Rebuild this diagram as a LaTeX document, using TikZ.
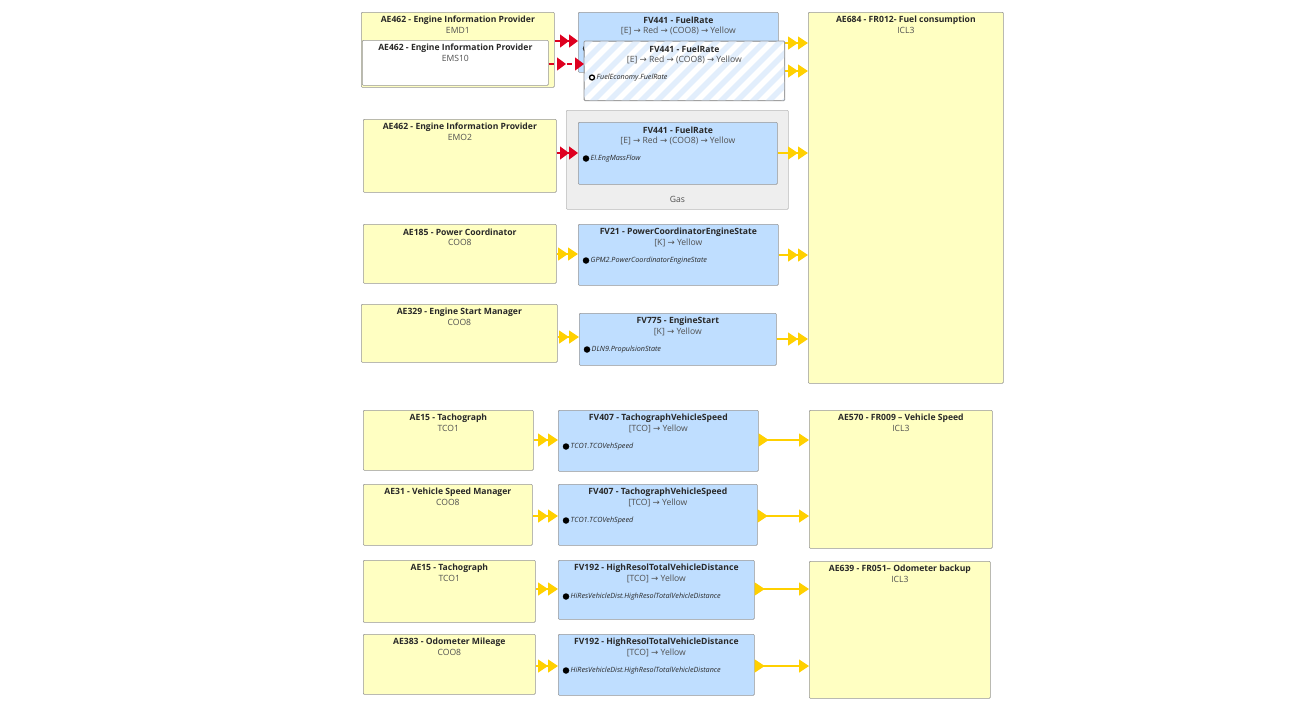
\documentclass[tikz,border=0pt]{standalone}
\usepackage{fontspec}
\setmainfont{Open Sans}
\newfontfamily\symfont{DejaVu Sans}
\usetikzlibrary{arrows.meta}
\definecolor{yfill}{RGB}{255,255,194}
\definecolor{bfill}{RGB}{191,222,255}
\definecolor{bord}{RGB}{150,150,150}
\definecolor{gasfill}{RGB}{238,238,238}
\definecolor{gasbord}{RGB}{185,185,185}
\definecolor{ylw}{RGB}{255,208,0}
\definecolor{redc}{RGB}{222,0,32}
\definecolor{tcol}{RGB}{40,40,40}
\definecolor{scol}{RGB}{80,80,80}
\definecolor{stripe}{RGB}{226,238,252}
\newcommand\RA{{\symfont →}}
\tikzset{
  boxbase/.style={draw=bord, line width=0.7pt, rounded corners=1pt, anchor=north west, inner sep=0pt},
  ybox/.style={boxbase, fill=yfill},
  wbox/.style={boxbase, fill=white},
  bbox/.style={boxbase, fill=bfill},
  hbox/.style={boxbase},
  ttl/.style={font=\fontsize{8.6}{10}\selectfont\bfseries, text=tcol, inner sep=0pt},
  subt/.style={font=\fontsize{8.6}{10}\selectfont, text=scol, inner sep=0pt},
  sig/.style={font=\fontsize{7.2}{8}\selectfont\itshape, text=tcol, anchor=west, inner sep=0pt},
  dotc/.style={circle, fill=black, inner sep=0pt, minimum size=6.5pt},
  ringc/.style={circle, draw=black, line width=1.3pt, fill=white, inner sep=0pt, minimum size=5pt},
  ya/.style={draw=ylw, line width=1.3pt, -{Triangle[length=10pt,width=13pt]Triangle[length=10pt,width=13pt]}},
  ys/.style={draw=ylw, line width=1.3pt, {Triangle[reversed,length=10pt,width=13pt]}-{Triangle[length=10pt,width=13pt]}},
  rd/.style={draw=redc, line width=1.3pt, -{Triangle[length=9pt,width=13pt]Triangle[length=9pt,width=13pt]}},
  rdd/.style={draw=redc, line width=1.3pt, dash pattern=on 5pt off 4pt, -{Triangle[length=9pt,width=13pt,sep=9pt]Triangle[length=9pt,width=13pt]}},
}
% #1 style, #2 name, #3 x, #4 y, #5 w, #6 h, #7 title, #8 sub
\newcommand\ybx[8][ybox]{%
  \node[#1, minimum width=#5pt, minimum height=#6pt] (#2) at (#3,#4) {};
  \node[ttl] (#2-t) at ([yshift=-8pt]#2.north) {#7};
  \node[subt] (#2-s) at ([yshift=-18.5pt]#2.north) {#8};
}
% #1 name, #2 x, #3 y, #4 w, #5 h, #6 title, #7 sub, #8 signal
\newcommand\fvbx[8]{%
  \node[bbox, minimum width=#4pt, minimum height=#5pt] (#1) at (#2,#3) {};
  \node[ttl] (#1-t) at ([yshift=-8pt]#1.north) {#6};
  \node[subt] (#1-s) at ([yshift=-19pt]#1.north) {#7};
  \node[dotc] (#1-d) at ([xshift=8pt,yshift=-36.5pt]#1.north west) {};
  \node[sig] (#1-g) at ([xshift=12.5pt,yshift=-36.5pt]#1.north west) {#8};
}
\begin{document}
\begin{tikzpicture}[x=1pt,y=-1pt]
\useasboundingbox[fill=white] (0,0) rectangle (1291,710);

% ---------- top group ----------
\node[ybox, minimum width=195pt, minimum height=371pt] (ae684) at (808,12) {};
\node[ttl] (ae684-t) at ([yshift=-8pt]ae684.north) {AE684 - FR012- Fuel consumption};
\node[subt] (ae684-s) at ([yshift=-18.5pt]ae684.north) {ICL3};

\ybx{emd1}{361}{12}{193}{75}{AE462 - Engine Information Provider}{EMD1}
\node[bbox, minimum width=200pt, minimum height=60pt] (fvb) at (578,12) {};
\node[ttl] (fvb-t) at ([yshift=-8pt]fvb.north) {FV441 - FuelRate};
\node[subt] (fvb-s) at ([yshift=-19pt]fvb.north) {[E] \RA{} Red \RA{} (COO8) \RA{} Yellow};
\node[ringc] (fvb-d) at ([xshift=8pt,yshift=-36.5pt]fvb.north west) {};
\draw[rd] (emd1.east |- 0,41) -- (fvb.west |- 0,41);
\draw[ya] (fvb.east |- 0,43) -- (ae684.west |- 0,43);

\node[wbox, minimum width=186pt, minimum height=45pt] (ems10) at (362,40) {};
\node[ttl] (ems10-t) at ([yshift=-8pt]ems10.north) {AE462 - Engine Information Provider};
\node[subt] (ems10-s) at ([yshift=-18.5pt]ems10.north) {EMS10};

\node[hbox, fill=white, minimum width=200pt, minimum height=59pt] (fvf) at (584,41) {};
\begin{scope}
  \clip (fvf.south west) rectangle (fvf.north east);
  \foreach \i in {0,16,...,272} {
    \draw[stripe, line width=5.5pt] (520+\i,110) -- ++(80,-80);
  }
\end{scope}
\draw[bord, line width=0.7pt, rounded corners=1pt] (fvf.south west) rectangle (fvf.north east);
\node[ttl] (fvf-t) at ([yshift=-8pt]fvf.north) {FV441 - FuelRate};
\node[subt] (fvf-s) at ([yshift=-19pt]fvf.north) {[E] \RA{} Red \RA{} (COO8) \RA{} Yellow};
\node[ringc] (fvf-d) at ([xshift=8pt,yshift=-36.5pt]fvf.north west) {};
\node[sig] (fvf-g) at ([xshift=12.5pt,yshift=-36.5pt]fvf.north west) {FuelEconomy.FuelRate};
\draw[rdd] (ems10.east |- 0,64) -- (fvf.west |- 0,64);
\draw[ya] (fvf.east |- 0,71) -- (ae684.west |- 0,71);

% gas group
\node[boxbase, fill=gasfill, draw=gasbord, minimum width=222pt, minimum height=99pt] (gas) at (566,110) {};
\node[subt] (gas-l) at ([yshift=10pt]gas.south) {Gas};
\fvbx{fvg}{578}{122}{199}{62}{FV441 - FuelRate}{[E] \RA{} Red \RA{} (COO8) \RA{} Yellow}{EI.EngMassFlow}
\ybx{emo2}{363}{119}{193}{73}{AE462 - Engine Information Provider}{EMO2}
\draw[rd] (emo2.east |- 0,153) -- (fvg.west |- 0,153);
\draw[ya] (fvg.east |- 0,153) -- (ae684.west |- 0,153);

% power coordinator
\ybx{ae185}{363}{224}{193}{59}{AE185 - Power Coordinator}{COO8}
\fvbx{fv21}{578}{224}{200}{61}{FV21 - PowerCoordinatorEngineState}{[K] \RA{} Yellow}{GPM2.PowerCoordinatorEngineState}
\draw[ya] (ae185.east |- 0,254) -- (fv21.west |- 0,254);
\draw[ya] (fv21.east |- 0,255) -- (ae684.west |- 0,255);

% engine start
\ybx{ae329}{361}{304}{196}{58}{AE329 - Engine Start Manager}{COO8}
\fvbx{fv775}{579}{313}{197}{52}{FV775 - EngineStart}{[K] \RA{} Yellow}{DLN9.PropulsionState}
\draw[ya] (ae329.east |- 0,337) -- (fv775.west |- 0,337);
\draw[ya] (fv775.east |- 0,339) -- (ae684.west |- 0,339);

% ---------- vehicle speed ----------
\ybx{ae570}{809}{410}{183}{138}{AE570 - FR009 – Vehicle Speed}{ICL3}
\ybx{ae15a}{363}{410}{170}{60}{AE15 - Tachograph}{TCO1}
\fvbx{fv407a}{558}{410}{200}{61}{FV407 - TachographVehicleSpeed}{[TCO] \RA{} Yellow}{TCO1.TCOVehSpeed}
\draw[ya] (ae15a.east |- 0,440) -- (fv407a.west |- 0,440);
\draw[ys] (fv407a.east |- 0,440) -- (ae570.west |- 0,440);

\ybx{ae31}{363}{484}{169}{61}{AE31 - Vehicle Speed Manager}{COO8}
\fvbx{fv407b}{558}{484}{199}{61}{FV407 - TachographVehicleSpeed}{[TCO] \RA{} Yellow}{TCO1.TCOVehSpeed}
\draw[ya] (ae31.east |- 0,516) -- (fv407b.west |- 0,516);
\draw[ys] (fv407b.east |- 0,516) -- (ae570.west |- 0,516);

% ---------- odometer ----------
\ybx{ae639}{809}{561}{181}{137}{AE639 - FR051– Odometer backup}{ICL3}
\ybx{ae15b}{363}{560}{172}{62}{AE15 - Tachograph}{TCO1}
\fvbx{fv192a}{558}{560}{196}{59}{FV192 - HighResolTotalVehicleDistance}{[TCO] \RA{} Yellow}{HiResVehicleDist.HighResolTotalVehicleDistance}
\draw[ya] (ae15b.east |- 0,589) -- (fv192a.west |- 0,589);
\draw[ys] (fv192a.east |- 0,589) -- (ae639.west |- 0,589);

\ybx{ae383}{363}{634}{172}{60}{AE383 - Odometer Mileage}{COO8}
\fvbx{fv192b}{558}{634}{196}{61}{FV192 - HighResolTotalVehicleDistance}{[TCO] \RA{} Yellow}{HiResVehicleDist.HighResolTotalVehicleDistance}
\draw[ya] (ae383.east |- 0,666) -- (fv192b.west |- 0,666);
\draw[ys] (fv192b.east |- 0,666) -- (ae639.west |- 0,666);
\end{tikzpicture}
\end{document}
